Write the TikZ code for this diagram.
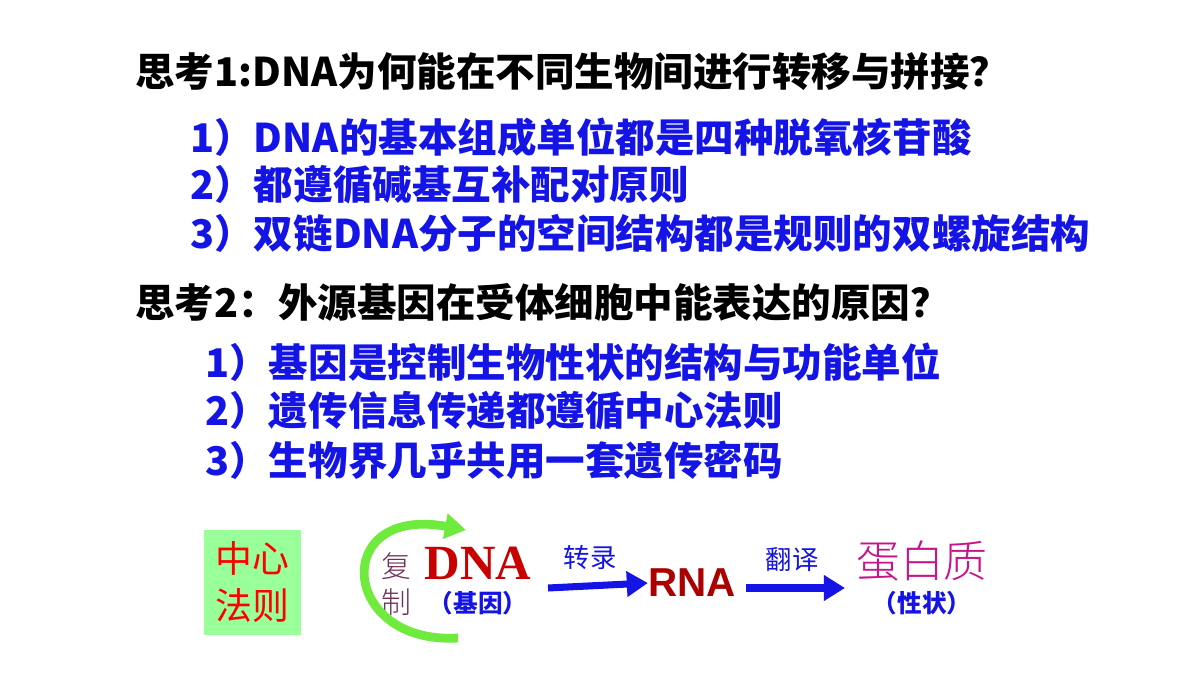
\documentclass[tikz,border=0pt]{standalone}
\usepackage{fontspec}
\setmainfont{Liberation Serif}
\newfontfamily\cjk{Noto Sans CJK SC}
\newfontfamily\cjkserif{Noto Sans CJK SC Light}
\usetikzlibrary{arrows.meta}
\definecolor{txtblue}{RGB}{20,20,230}
\definecolor{boxgreen}{RGB}{153,255,153}
\definecolor{arcgreen}{RGB}{110,235,60}
\definecolor{dnared}{RGB}{200,0,0}
\definecolor{proteinmag}{RGB}{200,20,140}
\definecolor{fuzhi}{RGB}{110,50,90}
\tikzset{
  question/.style={anchor=west,inner sep=0pt,font=\cjk\bfseries\fontsize{22.5}{26}\selectfont},
  answer/.style={question,text=txtblue},
  flowarrow/.style={-{Triangle[length=12pt,width=14pt]},line width=4pt,txtblue},
  small/.style={inner sep=0pt,font=\cjk\fontsize{15}{18}\selectfont}
}
\begin{document}
\begin{tikzpicture}[x=0.02cm,y=-0.02cm]
                \useasboundingbox[fill=white] (0,0) rectangle (1200,675);
                \node[question] (q1) at (135,72) {思考1:DNA为何能在不同生物间进行转移与拼接？};
                \node[answer] (a11) at (190,137) {1）DNA的基本组成单位都是四种脱氧核苷酸};
                \node[answer] (a12) at (190,185) {2）都遵循碱基互补配对原则};
                \node[answer] (a13) at (190,233) {3）双链DNA分子的空间结构都是规则的双螺旋结构};
                \node[question] (q2) at (135,302) {思考2：外源基因在受体细胞中能表达的原因？};
                \node[answer] (a21) at (205,362) {1）基因是控制生物性状的结构与功能单位};
                \node[answer] (a22) at (205,411) {2）遗传信息传递都遵循中心法则};
                \node[answer] (a23) at (205,460) {3）生物界几乎共用一套遗传密码};
                \node[fill=boxgreen,minimum width=97*0.02cm,minimum height=105*0.02cm,align=center,text=red,
                  font=\cjk\fontsize{21}{27}\selectfont] (dogma) at (252,582) {中心\\法则};
                \node[small,text=fuzhi,font=\cjkserif\fontsize{17}{20}\selectfont] (fu) at (396,566) {复};
                \node[small,text=fuzhi,font=\cjkserif\fontsize{17}{20}\selectfont] (zhi) at (396,602) {制};
                \node[inner sep=0pt,text=dnared,font=\bfseries\fontsize{28}{30}\selectfont] (dna) at (478,563) {DNA};
                \node[small,text=txtblue,font=\cjk\bfseries\fontsize{14}{16}\selectfont] (gene) at (478,603) {（基因）};
                \node[inner sep=0pt,text=dnared!85!black,font=\bfseries\fontsize{23}{26}\selectfont] (rna) at (692,583) {\fontspec{Liberation Sans}RNA};
                \node[inner sep=0pt,text=proteinmag,font=\cjkserif\fontsize{25}{28}\selectfont] (protein) at (922,561) {蛋白质};
                \node[small,text=txtblue,font=\cjk\bfseries\fontsize{14}{16}\selectfont] (trait) at (922,603) {（性状）};
                \node[small,text=txtblue] (trans) at (590,558) {转录};
                \node[small,text=txtblue] (transl) at (792,560) {翻译};
                \coordinate (t0) at (548,588);
                \coordinate (t1) at (746,588);
                \coordinate (t2) at (845,588);
                \draw[flowarrow] (t0) -- (rna.west);
                \draw[flowarrow] (t1) -- (t2);
                \draw[-{Triangle[length=12pt,width=14pt]},line width=5pt,arcgreen]
                  (458,638) .. controls (340,645) and (330,505) .. (466,530);
                \end{tikzpicture}
\end{document}
